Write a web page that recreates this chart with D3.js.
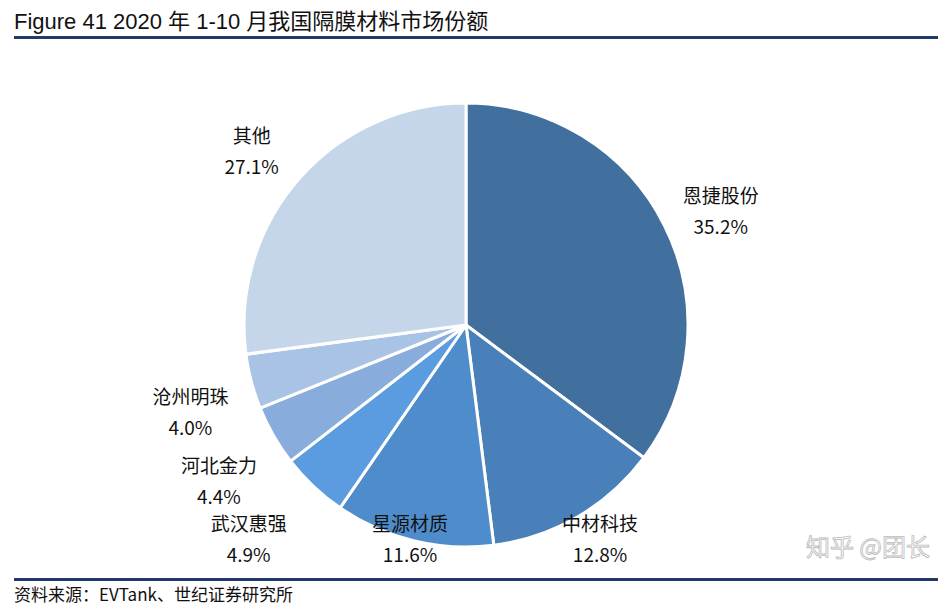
<!DOCTYPE html><html><head><meta charset="utf-8"><script src="https://cdn.jsdelivr.net/npm/d3@7"></script>
<style>body{margin:0;background:#fff}</style></head><body><svg id="c" width="950" height="610"></svg>
<script>
const categories=["恩捷股份","中材科技","星源材质","武汉惠强","河北金力","沧州明珠","其他"];
const values=[35.2,12.8,11.6,4.9,4.4,4.0,27.1];
const labels=["35.2%","12.8%","11.6%","4.9%","4.4%","4.0%","27.1%"];
const colors=["#41709f","#4a80ba","#4f8ccb","#5b9be0","#88acdc","#a9c3e6","#c5d6ea"];
const svg=d3.select("#c");
svg.append("text").attr("x",14).attr("y",29).attr("font-family","Liberation Sans, Noto Sans CJK SC").attr("font-size",22).attr("fill","#111").text("Figure 41 2020 年 1-10 月我国隔膜材料市场份额");
svg.append("rect").attr("x",14).attr("y",36).attr("width",924).attr("height",3).attr("fill","#1f3a6b");
svg.append("rect").attr("x",14).attr("y",578).attr("width",924).attr("height",3).attr("fill","#1f3a6b");
svg.append("text").attr("x",14).attr("y",601).attr("font-family","Noto Sans CJK SC").attr("font-size",17).attr("fill","#111").text("资料来源：EVTank、世纪证券研究所");
svg.append("text").attr("x",930).attr("y",556).attr("text-anchor","end").attr("font-family","Noto Sans CJK SC").attr("font-size",24).attr("fill","#fff").attr("stroke","#bbb").attr("stroke-width",0.8).text("知乎 @团长");
const cx=466,cy=325,r=222;
const pie=d3.pie().sort(null).value(d=>d)(values);
const arc=d3.arc().innerRadius(0).outerRadius(r);
const g=svg.append("g").attr("transform",`translate(${cx},${cy})`);
g.selectAll("path").data(pie).join("path").attr("d",arc).attr("fill",(d,i)=>colors[i]).attr("stroke","#fff").attr("stroke-width",3);
const la=d3.arc().innerRadius(285).outerRadius(285);
pie.forEach((d,i)=>{let [x,y]=la.centroid(d); if(y>200){x=x*200/y*1.15;y=200;}
 const t=g.append("text").attr("text-anchor","middle").attr("font-family","Noto Sans CJK SC").attr("font-size",19).attr("fill","#111");
 t.append("tspan").attr("x",x).attr("y",y+6).text(categories[i]);
 t.append("tspan").attr("x",x).attr("y",y+37).text(labels[i]);});
</script></body></html>
